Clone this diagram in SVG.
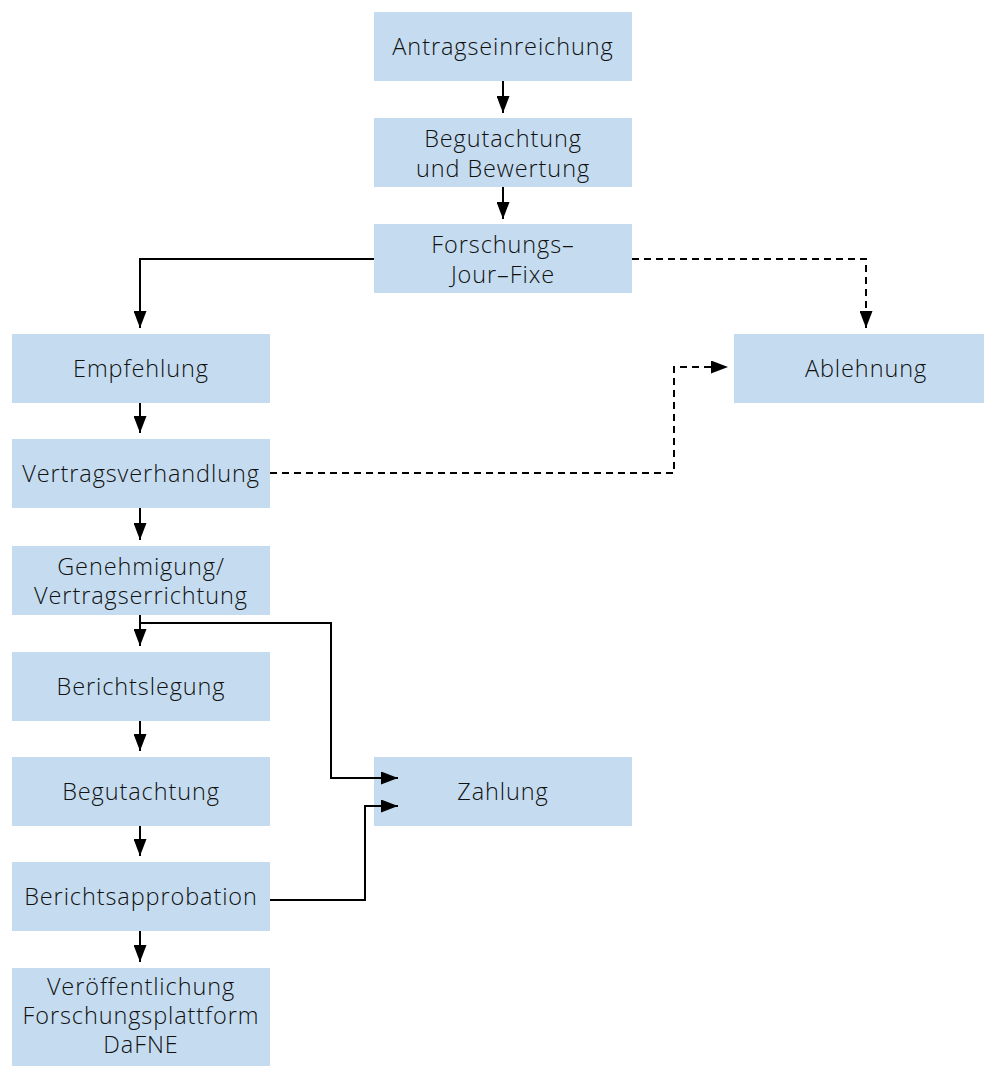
<svg xmlns="http://www.w3.org/2000/svg" width="984" height="1066" viewBox="0 0 984 1066">
<defs>
<style>
.box{fill:#c5dcf0;}
.t{font-family:"Open Sans","Noto Sans","Liberation Sans",sans-serif;font-size:23.5px;font-weight:350;letter-spacing:0.9px;fill:#111;text-anchor:middle;}
.c{fill:none;stroke:#000;stroke-width:2;}
.d{stroke-dasharray:7,5;}
</style>
<marker id="ah" markerUnits="userSpaceOnUse" markerWidth="17" markerHeight="13" refX="17" refY="6.5" orient="auto">
<path d="M0,0 L17,6.5 L0,13 z" fill="#000"/>
</marker>
</defs>
<rect width="984" height="1066" fill="#fff"/>
<g id="n-antrag"><rect class="box" x="374" y="12" width="258" height="69"/><text class="t" x="503" y="55">Antragseinreichung</text></g>
<g id="n-begutachtung-bewertung"><rect class="box" x="374" y="118" width="258" height="69"/><text class="t" x="503" y="147">Begutachtung</text><text class="t" x="503" y="177">und Bewertung</text></g>
<g id="n-jourfixe"><rect class="box" x="374" y="224" width="258" height="69"/><text class="t" x="503" y="253">Forschungs–</text><text class="t" x="503" y="283">Jour–Fixe</text></g>
<g id="n-empfehlung"><rect class="box" x="12" y="334" width="258" height="69"/><text class="t" x="141" y="377">Empfehlung</text></g>
<g id="n-ablehnung"><rect class="box" x="734" y="334" width="258" height="69"/><text class="t" x="866" y="377">Ablehnung</text></g>
<g id="n-vertragsverhandlung"><rect class="box" x="12" y="439" width="258" height="69"/><text class="t" x="141" y="482">Vertragsverhandlung</text></g>
<g id="n-genehmigung"><rect class="box" x="12" y="546" width="258" height="69"/><text class="t" x="141" y="575">Genehmigung/</text><text class="t" x="141" y="604">Vertragserrichtung</text></g>
<g id="n-berichtslegung"><rect class="box" x="12" y="652" width="258" height="69"/><text class="t" x="141" y="695">Berichtslegung</text></g>
<g id="n-begutachtung"><rect class="box" x="12" y="757" width="258" height="69"/><text class="t" x="141" y="800">Begutachtung</text></g>
<g id="n-zahlung"><rect class="box" x="374" y="757" width="258" height="69"/><text class="t" x="503" y="800">Zahlung</text></g>
<g id="n-berichtsapprobation"><rect class="box" x="12" y="862" width="258" height="69"/><text class="t" x="141" y="905">Berichtsapprobation</text></g>
<g id="n-veroeffentlichung"><rect class="box" x="12" y="968" width="258" height="98"/><text class="t" x="141" y="995">Veröffentlichung</text><text class="t" x="141" y="1024">Forschungsplattform</text><text class="t" x="141" y="1053">DaFNE</text></g>
<g id="connectors">
<path class="c" d="M503,81 V113" marker-end="url(#ah)"/>
<path class="c" d="M503,187 V219" marker-end="url(#ah)"/>
<path class="c" d="M374,259 H140 V328" marker-end="url(#ah)"/>
<path class="c d" d="M632,259 H866 V328" marker-end="url(#ah)"/>
<path class="c" d="M140,403 V433" marker-end="url(#ah)"/>
<path class="c d" d="M270,473 H674 V367 H728" marker-end="url(#ah)"/>
<path class="c" d="M140,508 V540" marker-end="url(#ah)"/>
<path class="c" d="M140,615 V646" marker-end="url(#ah)"/>
<path class="c" d="M140,623 H331 V778 H398" marker-end="url(#ah)"/>
<path class="c" d="M140,721 V751" marker-end="url(#ah)"/>
<path class="c" d="M140,826 V856" marker-end="url(#ah)"/>
<path class="c" d="M270,900 H365 V806 H398" marker-end="url(#ah)"/>
<path class="c" d="M140,931 V962" marker-end="url(#ah)"/>
</g>
</svg>
